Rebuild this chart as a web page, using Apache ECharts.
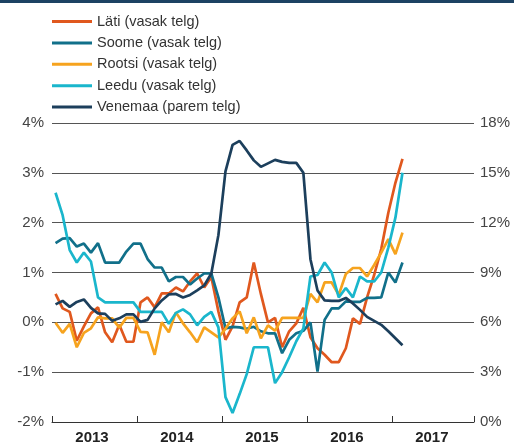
<!DOCTYPE html>
<html>
<head>
<meta charset="utf-8">
<script src="https://cdn.jsdelivr.net/npm/echarts@6/dist/echarts.min.js"></script>
<style>html,body{margin:0;padding:0;background:#fff}#c{width:514px;height:445px}</style>
</head>
<body>
<div id="c"></div>
<script>
// Monthly data, Jan 2013 .. Feb 2017
var years = ['2013', '2014', '2015', '2016', '2017'];
var seriesNames = ['Läti (vasak telg)', 'Soome (vasak telg)', 'Rootsi (vasak telg)', 'Leedu (vasak telg)', 'Venemaa (parem telg)'];
var leftTicks = [-2, -1, 0, 1, 2, 3, 4];
var rightTicks = [0, 3, 6, 9, 12, 15, 18];

var lati = [0.57, 0.28, 0.21, -0.37, -0.08, 0.18, 0.3, -0.2, -0.4, -0.05, -0.39, -0.39,
  0.4, 0.5, 0.3, 0.58, 0.58, 0.7, 0.62, 0.82, 0.98, 0.7, 0.91, 0.22,
  -0.35, -0.08, 0.4, 0.5, 1.2, 0.57, 0.0, 0.09, -0.5, -0.18, -0.02, 0.29,
  -0.3, -0.52, -0.65, -0.8, -0.8, -0.52, 0.08, -0.03, 0.5, 0.95, 1.47, 2.2,
  2.8, 3.28];
var soome = [1.59, 1.68, 1.69, 1.52, 1.58, 1.4, 1.59, 1.2, 1.2, 1.2, 1.42, 1.58,
  1.58, 1.27, 1.1, 1.1, 0.82, 0.91, 0.91, 0.76, 0.88, 0.98, 0.98, 0.5,
  -0.12, -0.09, -0.1, -0.13, -0.09, -0.18, -0.22, -0.22, -0.62, -0.35, -0.22, -0.17,
  0.0, -0.99, 0.05, 0.28, 0.28, 0.42, 0.41, 0.41, 0.49, 0.49, 0.5, 1.0,
  0.8, 1.2];
var rootsi = [-0.01, -0.21, -0.03, -0.5, -0.21, -0.12, 0.1, 0.08, 0.08, -0.11, 0.09, 0.09,
  -0.19, -0.2, -0.65, 0.0, -0.2, 0.2, -0.02, -0.2, -0.4, -0.1, -0.2, -0.3,
  -0.13, 0.08, 0.22, -0.22, 0.1, -0.32, -0.06, -0.17, 0.09, 0.09, 0.09, 0.09,
  0.57, 0.4, 0.8, 0.8, 0.55, 0.97, 1.09, 1.09, 0.92, 1.15, 1.4, 1.67,
  1.37, 1.8];
var leedu = [2.6, 2.15, 1.45, 1.2, 1.4, 1.22, 0.5, 0.4, 0.4, 0.4, 0.4, 0.4,
  0.21, 0.21, 0.21, 0.21, -0.03, 0.19, 0.26, 0.16, -0.06, 0.11, 0.21, -0.1,
  -1.5, -1.82, -1.44, -1.04, -0.5, -0.5, -0.5, -1.22, -1.0, -0.7, -0.38, -0.12,
  0.92, 0.95, 1.2, 1.0, 0.5, 0.69, 0.5, 0.92, 0.82, 0.82, 1.0, 1.5,
  2.1, 3.0];
var venemaa = [7.08, 7.29, 6.93, 7.23, 7.38, 6.87, 6.54, 6.51, 6.09, 6.24, 6.48, 6.48,
  6.03, 6.15, 6.84, 7.32, 7.68, 7.71, 7.5, 7.65, 7.92, 8.22, 8.94, 11.25,
  15.09, 16.68, 16.92, 16.35, 15.75, 15.36, 15.57, 15.78, 15.66, 15.6, 15.6, 15.0,
  9.8, 7.92, 7.32, 7.29, 7.29, 7.47, 7.14, 6.75, 6.33, 6.09, 5.85, 5.46,
  5.04, 4.62];

var colors = ['#e0581e', '#11708a', '#f6a31e', '#1ab6cc', '#1c3f5c'];
var FONT = 'Liberation Sans, Arial, sans-serif';
var X_MAX = 59.6; // axis span in months

function pts(arr) { return arr.map(function (v, i) { return [i + 0.5, v]; }); }

var all = [lati, soome, rootsi, leedu, venemaa];
var series = all.map(function (arr, k) {
  return {
    name: seriesNames[k], type: 'line', data: pts(arr),
    yAxisIndex: k === 4 ? 1 : 0, xAxisIndex: 0,
    symbol: 'none', smooth: false,
    lineStyle: { width: 2.7, color: colors[k] },
    itemStyle: { color: colors[k] },
    z: 2 + k
  };
});

var chart = echarts.init(document.getElementById('c'), null, { renderer: 'canvas' });
chart.setOption({
  animation: false,
  color: colors,
  graphic: [{ type: 'rect', shape: { x: 0, y: 0, width: 514, height: 3 }, style: { fill: '#1d4263' } }],
  legend: {
    orient: 'vertical', left: 52, top: 14, padding: 0,
    icon: 'rect',
    itemWidth: 40, itemHeight: 3, itemGap: 6.4,
    data: seriesNames,
    textStyle: { fontFamily: FONT, fontSize: 14.5, lineHeight: 14, color: '#333' }
  },
  grid: { left: 52, right: 40, top: 123, bottom: 20, containLabel: false },
  xAxis: [{
    type: 'value', min: 0, max: X_MAX, interval: 6, position: 'bottom',
    axisLine: { show: false }, axisTick: { show: false }, splitLine: { show: false },
    axisLabel: {
      margin: 8, fontFamily: FONT, fontSize: 15, fontWeight: 'bold', color: '#222',
      padding: [0, 5, 0, 0],
      formatter: function (v) { return (Math.round(v) % 12 === 6) ? years[Math.floor(v / 12)] : ''; }
    }
  }, {
    type: 'value', min: 0, max: X_MAX, interval: 12, position: 'bottom',
    axisLine: { show: true, lineStyle: { color: '#333', width: 1 } },
    axisTick: { show: true, inside: true, length: 6, lineStyle: { color: '#333', width: 1 } },
    axisLabel: { show: false }, splitLine: { show: false }
  }],
  yAxis: [{
    type: 'value', min: leftTicks[0], max: leftTicks[leftTicks.length - 1], interval: 1,
    axisLine: { show: false }, axisTick: { show: false },
    splitLine: { show: true, lineStyle: { color: '#555', width: 1 } },
    axisLabel: { margin: 8, fontFamily: FONT, fontSize: 15, color: '#444', formatter: '{value}%' }
  }, {
    type: 'value', min: rightTicks[0], max: rightTicks[rightTicks.length - 1], interval: 3,
    position: 'right',
    axisLine: { show: false }, axisTick: { show: false }, splitLine: { show: false },
    axisLabel: { margin: 6, fontFamily: FONT, fontSize: 15, color: '#444', formatter: '{value}%' }
  }],
  series: series
});
</script>
</body>
</html>
